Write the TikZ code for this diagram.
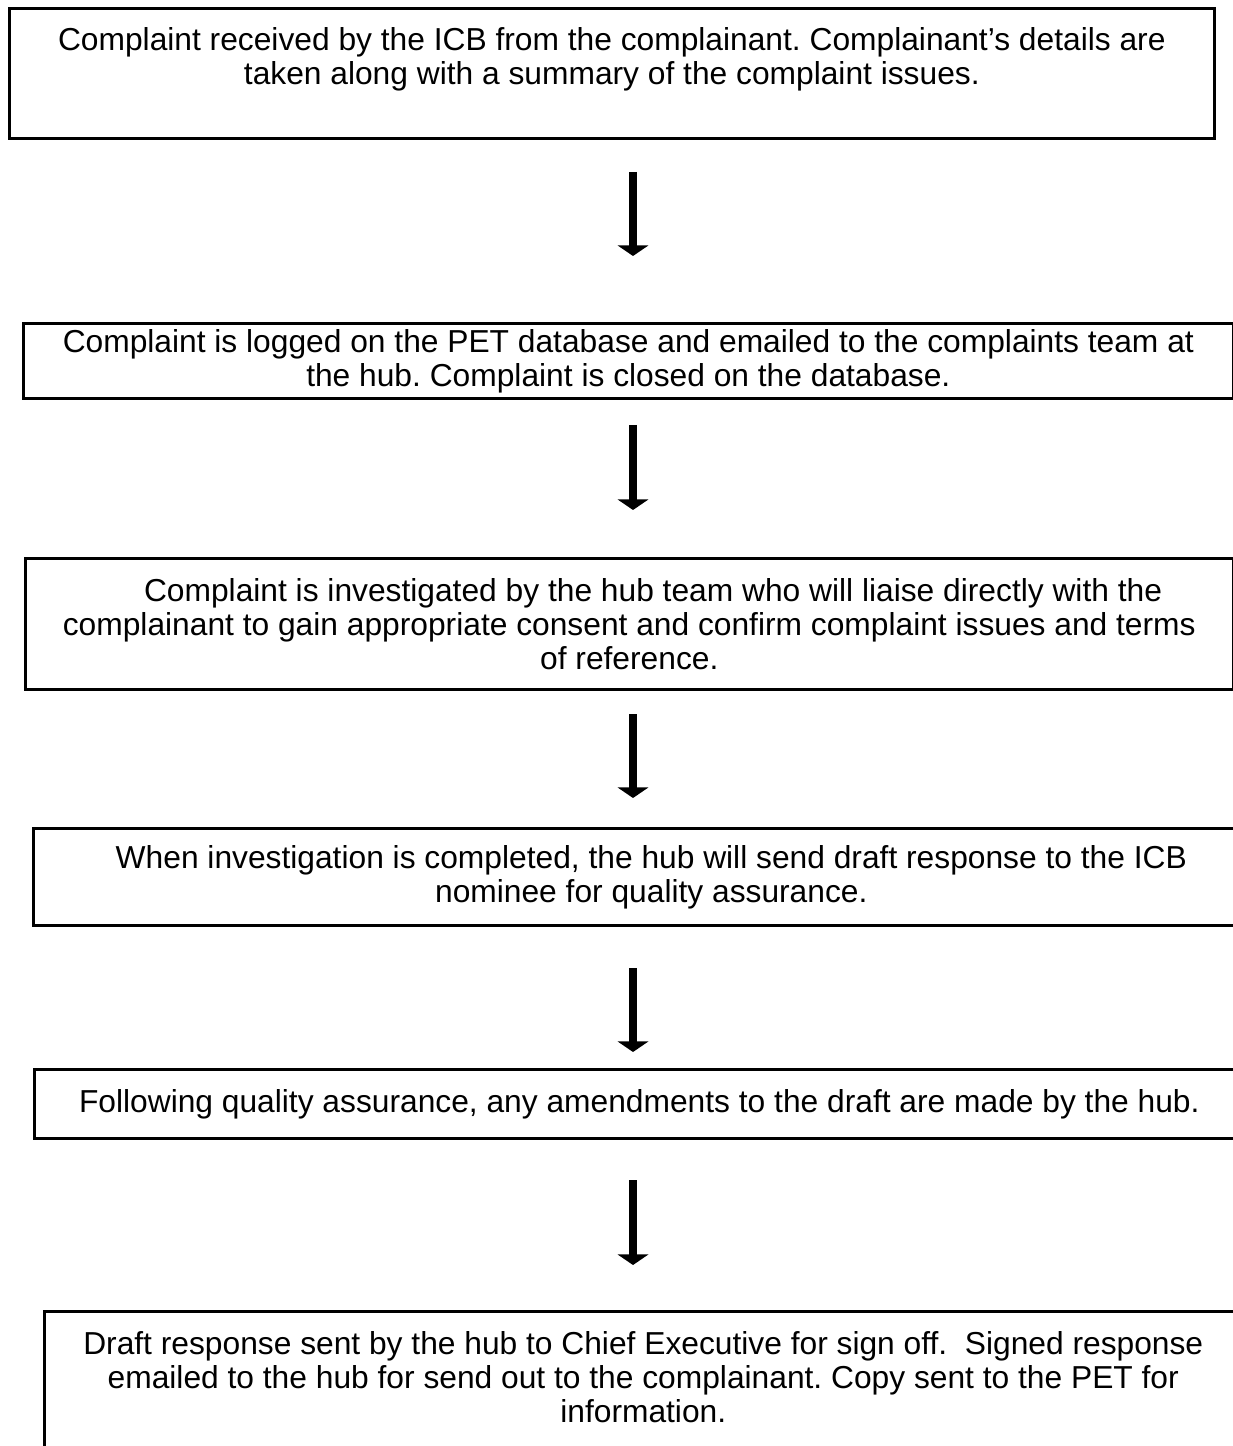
\documentclass[tikz,border=0pt]{standalone}
\usepackage{fontspec}
\setmainfont{Liberation Sans}
\usetikzlibrary{arrows.meta}
\frenchspacing

\tikzset{
  stepbox/.style={draw, line width=1pt, align=center, anchor=north west,
    inner sep=0pt, font=\fontsize{12}{12.8}\selectfont},
  flow/.style={line width=3pt, -{Triangle[width=11.5pt,length=4pt]}},
}

\begin{document}
\begin{tikzpicture}[x=0.378pt, y=-0.378pt]
  \useasboundingbox (0,0) rectangle (1232,1446);

  % the six steps
  \node[stepbox, minimum width=455.5pt, minimum height=49.1pt] (received) at (8,7)
    {Complaint received by the ICB from the complainant. Complainant's details are\\
     taken along with a summary of the complaint issues.\\ \mbox{}};
  \node[stepbox, minimum width=457.4pt, minimum height=28.4pt] (logged) at (22,322)
    {Complaint is logged on the PET database and emailed to the complaints team at\\
     the hub. Complaint is closed on the database.};
  \node[stepbox, minimum width=456.6pt, minimum height=49.5pt] (investigated) at (24,557)
    {\hspace*{18pt}Complaint is investigated by the hub team who will liaise directly with the\\
     complainant to gain appropriate consent and confirm complaint issues and terms\\
     of reference.};
  \node[stepbox, minimum width=467.2pt, minimum height=36.7pt] (draft) at (32,827)
    {When investigation is completed, the hub will send draft response to the ICB\\
     nominee for quality assurance.};
  \node[stepbox, minimum width=457.4pt, minimum height=26.1pt] (amended) at (33,1068)
    {Following quality assurance, any amendments to the draft are made by the hub.};
  \node[stepbox, minimum width=452.8pt, minimum height=62.4pt] (signoff) at (43,1310)
    {Draft response sent by the hub to Chief Executive for sign off.\ \ Signed response\\
     emailed to the hub for send out to the complainant. Copy sent to the PET for\\
     information.\\ \mbox{}};

  % arrows between the steps
  \foreach \n/\ys/\ye in {1/172/256, 2/425/510, 3/714/798, 4/968/1052, 5/1180/1265} {
    \coordinate (top\n) at (633,\ys);
    \coordinate (tip\n) at (633,\ye);
    \draw[flow] (top\n) -- (tip\n);
  }
\end{tikzpicture}
\end{document}
